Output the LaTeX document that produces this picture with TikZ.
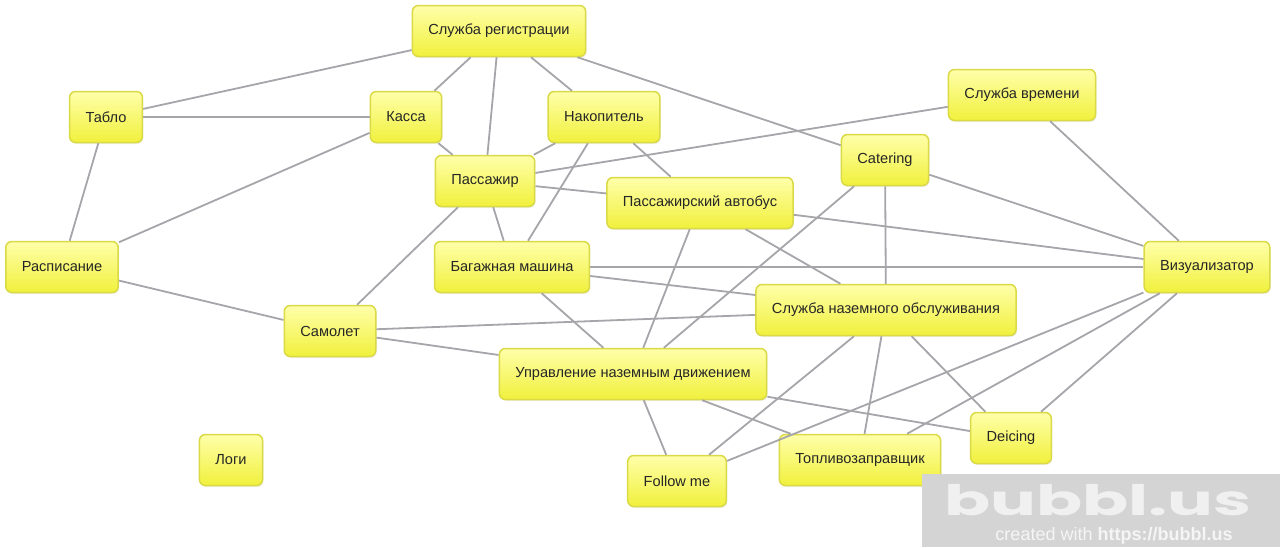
\documentclass[tikz,border=0pt]{standalone}
\usepackage{fontspec}
\usepackage{graphicx}
\setmainfont{Liberation Sans}
\newfontfamily\markfont{Poppins}
\usetikzlibrary{shadows}

\definecolor{bubbletop}{RGB}{255,255,170}
\definecolor{bubblebot}{RGB}{240,240,60}
\definecolor{bubbleedge}{RGB}{218,218,70}
\definecolor{linkgray}{RGB}{165,165,170}
\definecolor{markgray}{RGB}{212,212,212}

\tikzset{
    bubble/.style={rectangle, rounded corners=6pt, draw=bubbleedge, line width=1.5pt,
        top color=bubbletop, bottom color=bubblebot, text=black!85,
        minimum height=51pt, inner xsep=16pt, font=\fontsize{14.6}{16}\selectfont,
        drop shadow={opacity=0.12, shadow xshift=1pt, shadow yshift=-1.5pt}},
    link/.style={draw=linkgray, line width=1.8pt},
}

\begin{document}
\begin{tikzpicture}[x=1pt, y=-1pt]
        \useasboundingbox (0,0) rectangle (1280,547);
        \node[bubble] (reg) at (499,31) {Служба регистрации};
        \node[bubble] (tablo) at (106,117) {Табло};
        \node[bubble] (kassa) at (406,117) {Касса};
        \node[bubble] (nakop) at (604,117) {Накопитель};
        \node[bubble] (vremya) at (1022,95) {Служба времени};
        \node[bubble] (catering) at (885,160) {Catering};
        \node[bubble] (pass) at (485,181) {Пассажир};
        \node[bubble] (bus) at (700,203) {Пассажирский автобус};
        \node[bubble] (rasp) at (62,267) {Расписание};
        \node[bubble] (bagazh) at (512,267) {Багажная машина};
        \node[bubble] (vis) at (1207,267) {Визуализатор};
        \node[bubble] (gse) at (886,310) {Служба наземного обслуживания};
        \node[bubble] (samolet) at (330,331) {Самолет};
        \node[bubble] (upr) at (633,374) {Управление наземным движением};
        \node[bubble] (deicing) at (1011,438) {Deicing};
        \node[bubble] (logi) at (231,460) {Логи};
        \node[bubble] (fuel) at (860,460) {Топливозаправщик};
        \node[bubble] (follow) at (677,481) {Follow me};
        % links
        \draw[link] (reg) -- (tablo);
        \draw[link] (reg) -- (kassa);
        \draw[link] (reg) -- (pass);
        \draw[link] (reg) -- (nakop);
        \draw[link] (reg) -- (catering);
        \draw[link] (tablo) -- (kassa);
        \draw[link] (tablo) -- (rasp);
        \draw[link] (kassa) -- (rasp);
        \draw[link] (kassa) -- (pass);
        \draw[link] (nakop) -- (pass);
        \draw[link] (nakop) -- (bagazh);
        \draw[link] (nakop) -- (bus);
        \draw[link] (vremya) -- (pass);
        \draw[link] (vremya) -- (vis);
        \draw[link] (pass) -- (bus);
        \draw[link] (pass) -- (bagazh);
        \draw[link] (pass) -- (samolet);
        \draw[link] (bus) -- (vis);
        \draw[link] (bus) -- (gse);
        \draw[link] (bus) -- (upr);
        \draw[link] (catering) -- (vis);
        \draw[link] (catering) -- (gse);
        \draw[link] (catering) -- (upr);
        \draw[link] (bagazh) -- (vis);
        \draw[link] (bagazh) -- (gse);
        \draw[link] (bagazh) -- (upr);
        \draw[link] (rasp) -- (samolet);
        \draw[link] (samolet) -- (gse);
        \draw[link] (samolet) -- (upr);
        \draw[link] (upr) -- (follow);
        \draw[link] (upr) -- (fuel);
        \draw[link] (upr) -- (deicing);
        \draw[link] (gse) -- (follow);
        \draw[link] (gse) -- (fuel);
        \draw[link] (gse) -- (deicing);
        \draw[link] (vis) -- (follow);
        \draw[link] (vis) -- (fuel);
        \draw[link] (vis) -- (deicing);
        % watermark
        \fill[markgray] (922,474) rectangle (1280,547);
        \node[text=white!94!black, inner sep=0pt, anchor=base, font=\markfont\bfseries\fontsize{42}{42}\selectfont] (logo) at (1098,515) {\scalebox{1.62}[1]{bubbl.us}};
        \node[text=white!96!black, inner sep=0pt, anchor=base, font=\fontsize{18}{20}\selectfont] (credit) at (1114,540) {created with \textbf{https://bubbl.us}};
\end{tikzpicture}
\end{document}
